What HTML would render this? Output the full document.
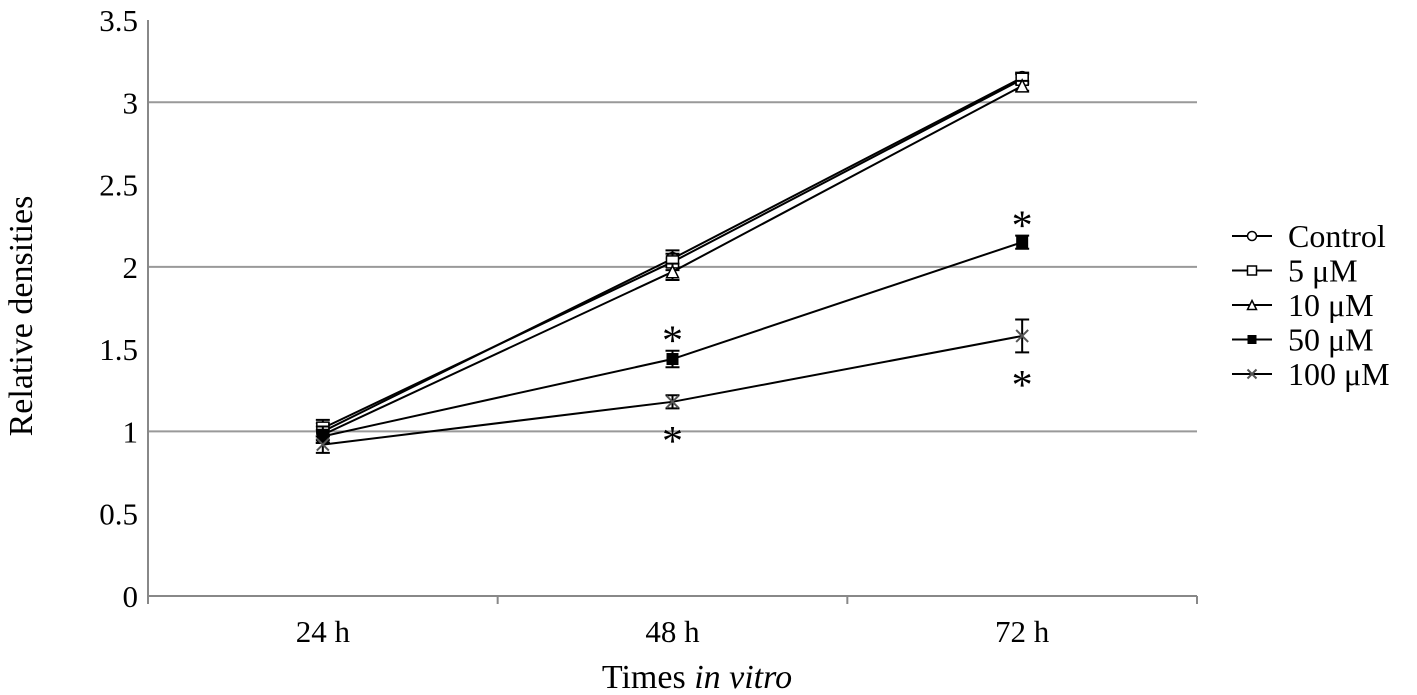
<!DOCTYPE html>
<html><head><meta charset="utf-8"><style>
body{margin:0;background:#fff;}
svg{display:block;font-family:"Liberation Serif",serif;}
</style></head><body>
<svg id="chart" width="1417" height="695" viewBox="0 0 1417 695" xmlns="http://www.w3.org/2000/svg"></svg>
<script>
const categories = ["24 h","48 h","72 h"];
const yTicks = [0,0.5,1,1.5,2,2.5,3,3.5];
const yTickLabels = ["0","0.5","1","1.5","2","2.5","3","3.5"];
const seriesNames = ["Control","5 \u03bcM","10 \u03bcM","50 \u03bcM","100 \u03bcM"];
const controlVals = [1.0,2.05,3.15];
const uM5Vals = [1.02,2.03,3.14];
const uM10Vals = [0.98,1.97,3.10];
const uM50Vals = [0.97,1.44,2.15];
const uM100Vals = [0.92,1.18,1.58];
const controlErr = [0.05,0.05,0.03];
const uM5Err = [0.05,0.05,0.03];
const uM10Err = [0.05,0.05,0.03];
const uM50Err = [0.04,0.05,0.04];
const uM100Err = [0.05,0.04,0.1];
const starsY = [null,[1.6,0.99],[2.3,1.33]];

const svg=document.getElementById('chart');
const NS='http://www.w3.org/2000/svg';
const x0=148,x1=1197,y0=596,yTop=20;
const yS=v=>y0-(v/3.5)*(y0-yTop);
const bw=(x1-x0)/categories.length;
const xS=i=>x0+bw*(i+0.5);
function mk(t,a,p){const e=document.createElementNS(NS,t);for(const k in a)e.setAttribute(k,a[k]);(p||svg).appendChild(e);return e;}
yTicks.forEach((v,i)=>{
  if(v>0&&i%2==0){const g=mk('line',{x1:x0,x2:x1,y1:yS(v),y2:yS(v),stroke:'#999','stroke-width':2});
  
  }
  const t=mk('text',{x:x0-10,y:yS(v)+11,'text-anchor':'end','font-size':31});
  t.textContent=yTickLabels[i];
  
  
});
let ax=mk('line',{x1:x0,x2:x0,y1:yTop,y2:y0,stroke:'#888','stroke-width':2});


ax=mk('line',{x1:x0,x2:x1,y1:y0,y2:y0,stroke:'#888','stroke-width':2});


for(let i=0;i<=categories.length;i++){const tk=mk('line',{x1:x0+bw*i,x2:x0+bw*i,y1:y0,y2:y0+8,stroke:'#888','stroke-width':2});

}
categories.forEach((c,i)=>{const t=mk('text',{x:xS(i),y:642,'text-anchor':'middle','font-size':31});t.textContent=c;

});
let t=mk('text',{x:697,y:688,'text-anchor':'middle','font-size':34});
t.innerHTML='Times <tspan font-style="italic">in vitro</tspan>';


t=mk('text',{x:0,y:0,'text-anchor':'middle','font-size':34,transform:'translate(32,316) rotate(-90)'});
t.textContent='Relative densities';



const allVals=[controlVals,uM5Vals,uM10Vals,uM50Vals,uM100Vals];
const allErr=[controlErr,uM5Err,uM10Err,uM50Err,uM100Err];
const markers=['circle','square','triangle','fsquare','cross'];
function marker(type,cx,cy,g,s){
  s=s||5;
  if(type=='circle')mk('circle',{cx,cy,r:s,fill:'#fff',stroke:'#000','stroke-width':1.5},g);
  else if(type=='square')mk('rect',{x:cx-s,y:cy-s,width:2*s,height:2*s,fill:'#fff',stroke:'#000','stroke-width':1.5},g);
  else if(type=='fsquare')mk('rect',{x:cx-s,y:cy-s,width:2*s,height:2*s,fill:'#000'},g);
  else if(type=='triangle')mk('polygon',{points:`${cx},${cy-s} ${cx+s},${cy+s} ${cx-s},${cy+s}`,fill:'#fff',stroke:'#000','stroke-width':1.5},g);
  else {mk('path',{d:`M${cx-s} ${cy-s}L${cx+s} ${cy+s}M${cx+s} ${cy-s}L${cx-s} ${cy+s}`,stroke:'#555','stroke-width':2},g);}
}
allVals.forEach((vals,si)=>{
  const g=mk('g',{});
  
  
  mk('polyline',{points:vals.map((v,i)=>xS(i)+','+yS(v)).join(' '),fill:'none',stroke:'#000','stroke-width':2},g);
  vals.forEach((v,i)=>{
    const e=allErr[si][i],cx=xS(i);
    mk('path',{d:`M${cx} ${yS(v+e)}V${yS(v-e)}M${cx-7} ${yS(v+e)}H${cx+7}M${cx-7} ${yS(v-e)}H${cx+7}`,stroke:'#000','stroke-width':2},g);
    marker(markers[si],cx,yS(v),g,6);
  });
});
starsY.forEach((arr,i)=>{if(!arr)return;arr.forEach(v=>{const s=mk('text',{x:xS(i),y:yS(v)+22,'text-anchor':'middle','font-size':42});s.textContent='*';

});});
seriesNames.forEach((n,i)=>{
  const y=236+i*34.5;
  const g=mk('g',{});
  
  
  mk('line',{x1:1232,x2:1272,y1:y,y2:y,stroke:'#000','stroke-width':2},g);
  marker(markers[i],1252,y,g,4.5);
  const tt=mk('text',{x:1288,y:y+11,'font-size':32},g);tt.textContent=n;
});
</script>
</body></html>
